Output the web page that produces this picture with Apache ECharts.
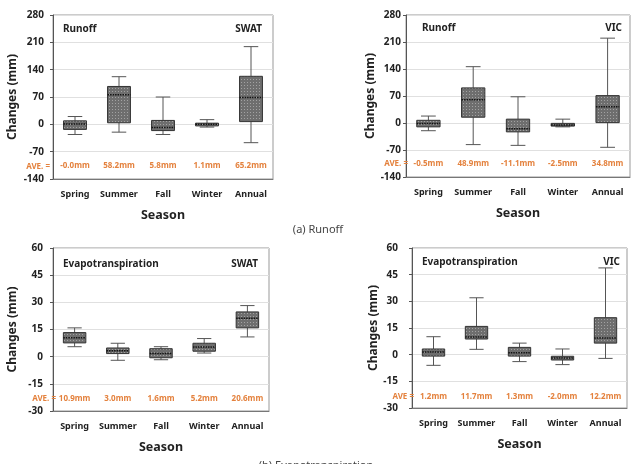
<!DOCTYPE html>
<html>
<head>
<meta charset="utf-8">
<script src="https://cdn.jsdelivr.net/npm/echarts@6/dist/echarts.min.js"></script>
<style>
  html, body { margin: 0; padding: 0; background: #fff; }
  #main { width: 637px; height: 464px; }
</style>
</head>
<body>
<div id="main"></div>
<script>
// 季节
var seasons = ['Spring', 'Summer', 'Fall', 'Winter', 'Annual'];

// 箱线数据 [min, Q1, median, Q3, max]
var runoffSwat = [[-26, -13, 1, 9, 20], [-20, 4, 76, 97, 122], [-26, -16, -8, 10, 70], [-7, -4, 0, 3, 12], [-47, 7, 69, 123, 199]];
var runoffVic = [[-20, -10, -1, 7, 18], [-56, 15, 60, 91, 146], [-58, -23, -15, 10, 68], [-10, -8, -5, -1, 10], [-63, 1, 42, 71, 220]];
var etSwat = [[5.5, 7.6, 10.5, 13.3, 15.9], [-2, 1.7, 3.3, 4.8, 7.4], [-1.7, -0.6, 1.7, 4.4, 5.5], [2, 3, 5.4, 7.4, 10], [10.9, 15.9, 21.2, 24.7, 28.2]];
var etVic = [[-6, -0.8, 1.5, 3.2, 10.1], [3, 8.8, 9.9, 15.9, 32], [-3.9, -0.8, 1.1, 4.1, 6.5], [-5.6, -3, -1.9, -0.9, 3.2], [-2.1, 6.5, 9.4, 20.8, 48.8]];

// 平均值
var aveRunoffSwat = ['-0.0mm', '58.2mm', '5.8mm', '1.1mm', '65.2mm'];
var aveRunoffVic = ['-0.5mm', '48.9mm', '-11.1mm', '-2.5mm', '34.8mm'];
var aveEtSwat = ['10.9mm', '3.0mm', '1.6mm', '5.2mm', '20.6mm'];
var aveEtVic = ['1.2mm', '11.7mm', '1.3mm', '-2.0mm', '12.2mm'];

// y轴刻度
var runoffTicks = [-140, -70, 0, 70, 140, 210, 280];
var etTicks = [-30, -15, 0, 15, 30, 45, 60];

var FONT = '"Noto Sans", "Open Sans", sans-serif';
var ORANGE = '#e4823e';

// 箱体纹理
function makePattern() {
    var c = document.createElement('canvas');
    c.width = 3; c.height = 3;
    var ctx = c.getContext('2d');
    ctx.fillStyle = '#6e6e6e';
    ctx.fillRect(0, 0, 3, 3);
    ctx.fillStyle = '#a2a2a2';
    ctx.fillRect(1, 1, 1, 1);
    return c;
}
var pattern = makePattern();

var panels = [
    {grid: {left: 53, top: 15, width: 220, height: 164}, data: runoffSwat, ave: aveRunoffSwat, ticks: runoffTicks, aveY: -107,
     nameGap: 34, labelMargin: 9},
    {grid: {left: 406, top: 15, width: 224, height: 162}, data: runoffVic, ave: aveRunoffVic, ticks: runoffTicks, aveY: -106,
     nameGap: 27, labelMargin: 5},
    {grid: {left: 53, top: 248, width: 216, height: 163}, data: etSwat, ave: aveEtSwat, ticks: etTicks, aveY: -23,
     nameGap: 34, labelMargin: 10},
    {grid: {left: 412, top: 248, width: 215, height: 160}, data: etVic, ave: aveEtVic, ticks: etTicks, aveY: -23.4,
     nameGap: 32, labelMargin: 14}
];

function renderBox(params, api) {
    var i = api.value(0);
    var low = api.coord([i, api.value(1)]);
    var q1 = api.coord([i, api.value(2)]);
    var med = api.coord([i, api.value(3)]);
    var q3 = api.coord([i, api.value(4)]);
    var high = api.coord([i, api.value(5)]);
    var band = api.size([1, 0])[0];
    var bw = band * 0.52, cw = band * 0.33;
    var cx = low[0];
    var ws = {stroke: '#555', lineWidth: 1, fill: null};
    return {
        type: 'group',
        children: [
            {type: 'line', shape: {x1: cx, y1: high[1], x2: cx, y2: q3[1]}, style: ws},
            {type: 'line', shape: {x1: cx, y1: q1[1], x2: cx, y2: low[1]}, style: ws},
            {type: 'line', shape: {x1: cx - cw / 2, y1: high[1], x2: cx + cw / 2, y2: high[1]}, style: ws},
            {type: 'line', shape: {x1: cx - cw / 2, y1: low[1], x2: cx + cw / 2, y2: low[1]}, style: ws},
            {type: 'rect', shape: {x: cx - bw / 2, y: q3[1], width: bw, height: q1[1] - q3[1]},
             style: {fill: {image: pattern, repeat: 'repeat'}, stroke: '#333', lineWidth: 1}},
            {type: 'line', shape: {x1: cx - bw / 2, y1: med[1], x2: cx + bw / 2, y2: med[1]},
             style: {stroke: '#111', lineWidth: 1.5, lineDash: [1.5, 1], fill: null}}
        ]
    };
}

var grids = [], xAxes = [], yAxes = [], series = [], graphics = [];

panels.forEach(function (p, k) {
    grids.push(Object.assign({show: true, borderColor: '#999', borderWidth: 1, backgroundColor: 'transparent'}, p.grid));
    xAxes.push({
        type: 'category', gridIndex: k, data: seasons,
        axisLine: {show: true, onZero: false, lineStyle: {color: '#777'}},
        axisTick: {show: false},
        axisLabel: {interval: 0, margin: 11, color: '#222', fontWeight: 'bold', fontSize: 9, fontFamily: FONT},
        name: 'Season', nameLocation: 'middle', nameGap: 30,
        nameTextStyle: {color: '#222', fontWeight: 'bold', fontSize: 12.5, fontFamily: FONT}
    });
    yAxes.push({
        type: 'value', gridIndex: k,
        min: p.ticks[0], max: p.ticks[p.ticks.length - 1], interval: p.ticks[1] - p.ticks[0],
        axisLine: {show: true, lineStyle: {color: '#555'}},
        axisTick: {show: true, length: 3, lineStyle: {color: '#555'}},
        splitLine: {show: true, lineStyle: {color: '#e0e0e0'}},
        axisLabel: {margin: p.labelMargin, color: '#222', fontWeight: 'bold', fontSize: 10, fontFamily: FONT},
        name: 'Changes (mm)', nameLocation: 'middle', nameRotate: 90, nameGap: p.nameGap,
        nameTextStyle: {color: '#222', fontWeight: 'bold', fontSize: 12, fontFamily: FONT}
    });
    series.push({
        type: 'custom', xAxisIndex: k, yAxisIndex: k,
        renderItem: renderBox,
        data: p.data.map(function (d, i) { return [i].concat(d); }),
        z: 3
    });
    series.push({
        type: 'custom', xAxisIndex: k, yAxisIndex: k,
        renderItem: function (params, api) {
            var pt = api.coord([api.value(0), api.value(1)]);
            return {type: 'text', x: pt[0], y: pt[1],
                style: {text: p.ave[api.value(0)], fill: ORANGE, font: 'bold 8px ' + FONT,
                        align: 'center', verticalAlign: 'middle', textAlign: 'center', textVerticalAlign: 'middle'}};
        },
        data: p.ave.map(function (a, i) { return [i, p.aveY]; }),
        z: 4
    });
});

// 面板文字
function txt(x, y, text, font, fill, align) {
    return {type: 'text', x: x, y: y, z: 10,
        style: {text: text, font: font, fill: fill, textAlign: align, align: align,
                textVerticalAlign: 'middle', verticalAlign: 'middle'}};
}
var titleFont = 'bold 10px ' + FONT;
graphics.push(txt(63, 29, 'Runoff', titleFont, '#222', 'left'));
graphics.push(txt(262, 29, 'SWAT', titleFont, '#222', 'right'));
graphics.push(txt(422, 28, 'Runoff', titleFont, '#222', 'left'));
graphics.push(txt(622, 28, 'VIC', titleFont, '#222', 'right'));
graphics.push(txt(63, 264, 'Evapotranspiration', titleFont, '#222', 'left'));
graphics.push(txt(258, 264, 'SWAT', titleFont, '#222', 'right'));
graphics.push(txt(422, 262, 'Evapotranspiration', titleFont, '#222', 'left'));
graphics.push(txt(620, 262, 'VIC', titleFont, '#222', 'right'));
var aveFont = 'bold 8px ' + FONT;
graphics.push(txt(50, 167, 'AVE. =', aveFont, ORANGE, 'right'));
graphics.push(txt(408, 164, 'AVE. =', aveFont, ORANGE, 'right'));
graphics.push(txt(56, 399, 'AVE. =', aveFont, ORANGE, 'right'));
graphics.push(txt(414, 397, 'AVE =', aveFont, ORANGE, 'right'));
graphics.push(txt(318, 230, '(a) Runoff', '11px ' + FONT, '#444', 'center'));
graphics.push(txt(316, 466, '(b) Evapotranspiration', '11px ' + FONT, '#444', 'center'));

var myChart = echarts.init(document.getElementById('main'));
myChart.setOption({
    animation: false,
    grid: grids,
    xAxis: xAxes,
    yAxis: yAxes,
    series: series,
    graphic: graphics
});
</script>
</body>
</html>
